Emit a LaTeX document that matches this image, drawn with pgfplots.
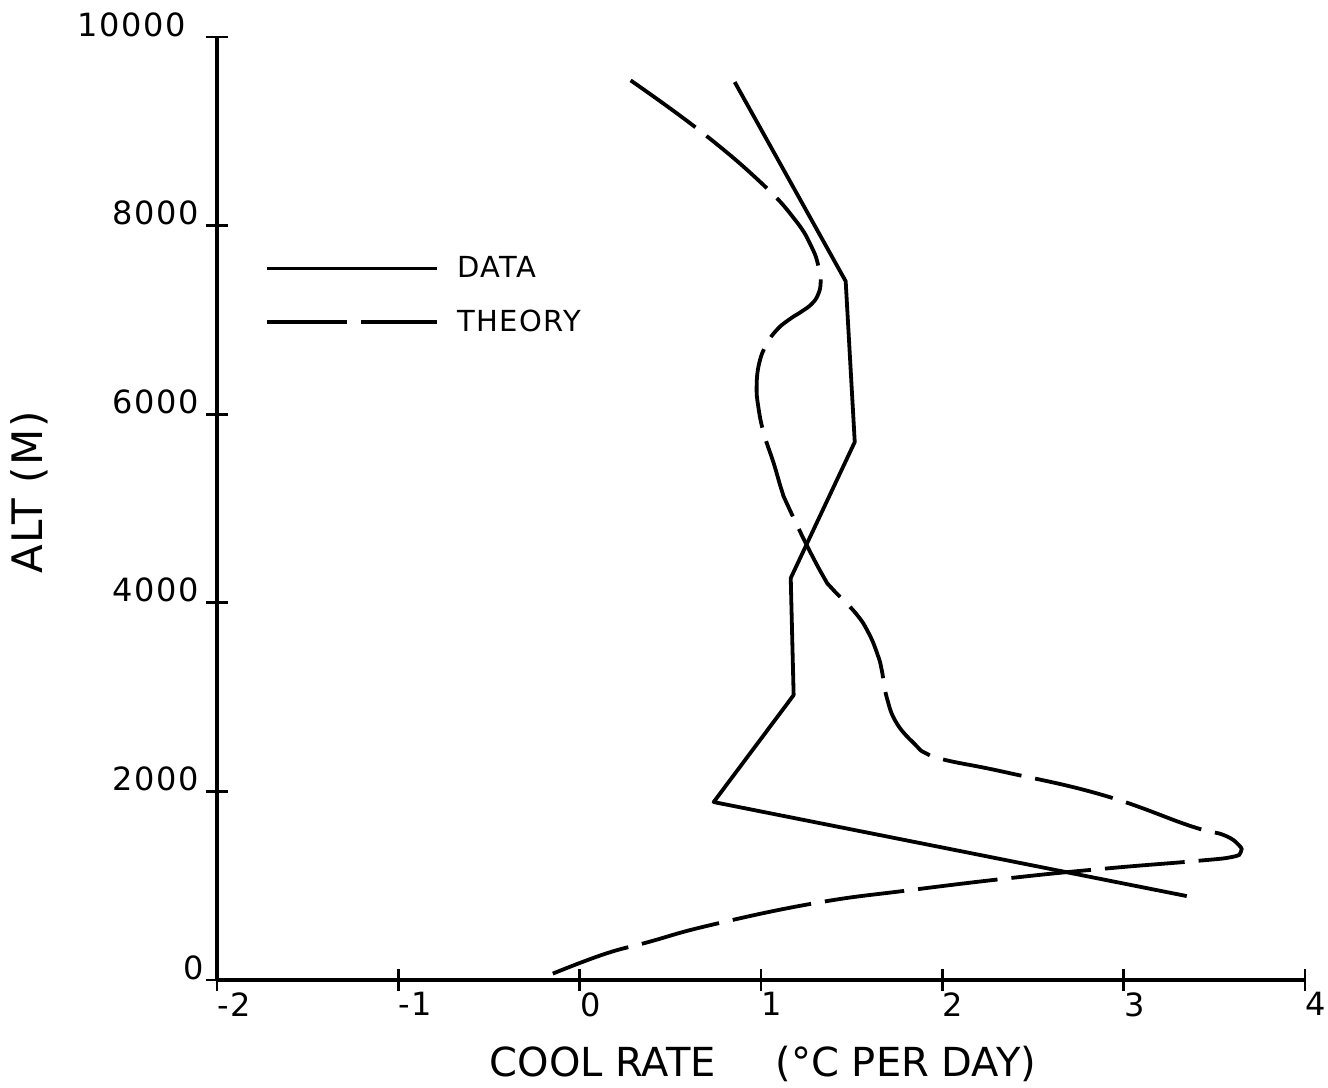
\documentclass[border=0pt]{standalone}
\usepackage{pgfplots}
\pgfplotsset{compat=1.18}
\usepackage{pgfplotstable}
\usepackage{fontspec}
\setmainfont{DejaVu Sans}
\newfontfamily\plotfont{DejaVu Sans}[LetterSpace=5]
\newfontfamily\labfont{DejaVu Sans}[LetterSpace=4]

\pgfplotstableread{
x y
0.855 9522
1.467 7410
1.517 5705
1.164 4262
1.180 3021
0.739 1887
3.348 890
}\datatable

\pgfplotstableread{
x y
0.281 9540
0.667 9000
1.004 8448
1.190 8056
1.280 7770
1.318 7558
1.329 7400
1.315 7270
1.280 7170
1.225 7090
1.160 7010
1.090 6900
1.030 6740
0.990 6540
0.976 6300
0.985 6080
1.015 5800
1.070 5480
1.114 5194
1.142 5056
1.247 4632
1.346 4272
1.390 4155
1.522 3890
1.594 3678
1.644 3445
1.666 3286
1.693 3000
1.748 2724
1.853 2491
1.908 2406
2.019 2332
2.344 2205
2.885 1961
3.370 1632
3.552 1537
3.635 1431
3.646 1357
3.596 1304
3.392 1261
2.930 1187
2.427 1092
1.826 954
1.300 816
0.723 583
0.380 403
0.121 265
-0.209 20
}\theorytable

\begin{document}
\begin{tikzpicture}
\begin{axis}[
  scale only axis, width=544pt, height=471.5pt,
  xmin=-2, xmax=4, ymin=0, ymax=10000,
  axis x line=bottom, axis y line=left,
  axis line style={-, line width=1.8pt},
  xtick={-2,-1,0,1,2,3,4}, xticklabels={-2,-1,0,1,2,3,4},
  ytick={0,2000,4000,6000,8000,10000},
  yticklabels={{0\hspace*{-2.5pt}},2000,4000,6000,8000,{10000\hspace*{6.5pt}}},
  scaled y ticks=false, scaled x ticks=false,
  tick align=center, major tick length=11pt,
  tick style={line width=1.4pt, black},
  xticklabel style={anchor=north west, inner sep=0pt, yshift=-0.5pt, font=\plotfont\fontsize{16}{19}\selectfont},
  yticklabel style={anchor=south east, inner sep=0pt, xshift=-3.5pt, font=\plotfont\fontsize{16}{19}\selectfont},
  clip=false,
  legend style={at={(rel axis cs:0.0441,0.7678)}, anchor=north west, draw=none, fill=none,
    inner sep=0pt, row sep=14.7pt, column sep=9pt, font=\plotfont\fontsize{14.5}{17}\selectfont,
    nodes={inner sep=0pt}},
  legend cell align=left,
  legend image code/.code={\draw[#1] (0pt,0pt) -- (85pt,0pt);},
]
\addplot[black, line width=1.9pt, line join=round] table {\datatable};
\addlegendentry{DATA}
\addplot[black, line width=1.9pt, smooth, tension=0.75, dash pattern=on 40pt off 7pt] table {\theorytable};
\addlegendentry{THEORY}
\node[anchor=base, font=\fontsize{20}{24}\selectfont] at ([xshift=1pt,yshift=-48pt]rel axis cs:0.5,0) {COOL RATE\hspace{30pt}(°C PER DAY)};
\node[rotate=90, anchor=center, font=\labfont\fontsize{21}{25}\selectfont] at ([xshift=-94pt]rel axis cs:0,0.517) {ALT (M)};
\end{axis}
\path ([xshift=-108.5pt,yshift=-51.5pt]current axis.south west) rectangle ([xshift=11.5pt,yshift=18.5pt]current axis.north east);
\end{tikzpicture}
\end{document}
